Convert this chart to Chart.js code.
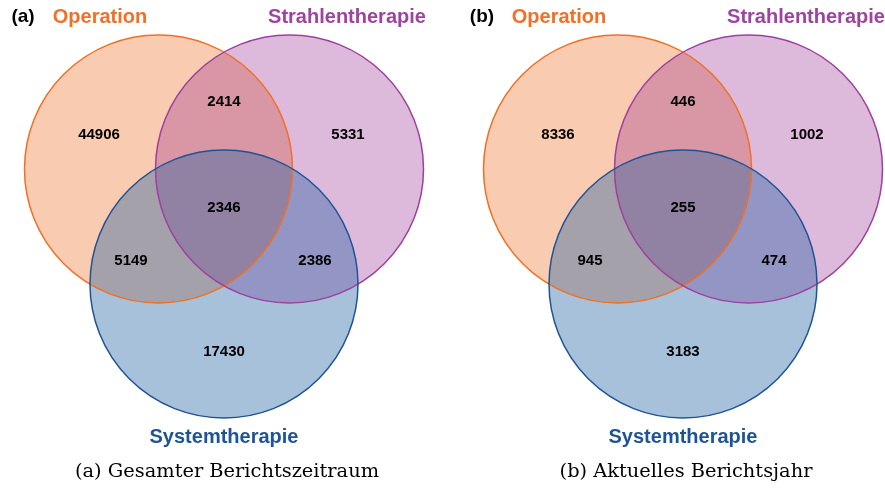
<!DOCTYPE html>
<html><head><meta charset="utf-8">
<script src="https://cdn.jsdelivr.net/npm/chart.js@4/dist/chart.umd.min.js"></script>
<style>html,body{margin:0;padding:0;background:#fff;}#wrap{width:885px;height:489px;position:relative;}</style>
</head><body><div id="wrap"><canvas id="c" width="885" height="489"></canvas></div>
<script>
// ---- data ----
const setNames = ["Operation", "Strahlentherapie", "Systemtherapie"];
const panelTags = ["(a)", "(b)"];
const captions = ["(a) Gesamter Berichtszeitraum", "(b) Aktuelles Berichtsjahr"];
// region order: Op only, Strahl only, System only, Op∩Strahl, Op∩System, Strahl∩System, all three
const regionKeys = ["O", "S", "Y", "OS", "OY", "SY", "OSY"];
const countsA = [44906, 5331, 17430, 2414, 5149, 2386, 2346];
const countsB = [8336, 1002, 3183, 446, 945, 474, 255];
const panelCounts = [countsA, countsB];

// ---- layout (pixel-unit scale) ----
const panelCx = [224, 683];
const R = 134;
const circleOffsets = [[-65.5, 169], [65.5, 169], [0, 284]];
const labelOffsets = {O: [-125, 135], S: [124, 135], Y: [0, 352], OS: [0, 102], OY: [-93, 261], SY: [91, 261], OSY: [0, 208]};
const strokes = ["rgb(240,112,36)", "rgb(158,64,160)", "rgb(30,84,150)"];
const fills = ["rgba(240,125,57,0.4)", "rgba(149,39,142,0.32)", "rgba(32,96,160,0.39)"];
const textCols = ["rgb(240,112,40)", "rgb(158,68,160)", "rgb(30,84,150)"];

const circlePoints = i => panelCx.map(cx => ({x: cx + circleOffsets[i][0], y: circleOffsets[i][1], r: R}));
// Chart.js draws lower "order" on top: fills bottom (orange, purple, blue), outlines above them
const fillSets = setNames.map((name, i) => ({
  label: name, data: circlePoints(i), order: 10 - i,
  backgroundColor: fills[i], borderColor: 'rgba(0,0,0,0)', borderWidth: 0,
  hoverRadius: 0, clip: false
}));
const lineSets = setNames.map((name, i) => ({
  label: name + ' outline', data: circlePoints(i), order: 3 - i,
  backgroundColor: 'rgba(0,0,0,0)', borderColor: strokes[i], borderWidth: 1.5,
  hoverRadius: 0, clip: false
}));

const textPlugin = {
  id: 'vennText',
  afterDatasetsDraw(chart) {
    const ctx = chart.ctx, xs = chart.scales.x, ys = chart.scales.y;
    const X = v => xs.getPixelForValue(v), Y = v => ys.getPixelForValue(v);
    ctx.save();
    ctx.textAlign = 'center';
    ctx.textBaseline = 'middle';
    panelCx.forEach((cx, p) => {
      ctx.fillStyle = '#000';
      ctx.font = 'bold 15px "Liberation Sans", Arial, sans-serif';
      regionKeys.forEach((k, j) => {
        const o = labelOffsets[k];
        ctx.fillText(String(panelCounts[p][j]), X(cx + o[0]), Y(o[1]));
      });
      ctx.font = 'bold 20px "Liberation Sans", Arial, sans-serif';
      ctx.fillStyle = textCols[0];
      ctx.fillText(setNames[0], X(cx - 124), Y(17));
      ctx.fillStyle = textCols[1];
      ctx.fillText(setNames[1], X(cx + 123), Y(17));
      ctx.fillStyle = textCols[2];
      ctx.fillText(setNames[2], X(cx), Y(437));
      ctx.fillStyle = '#000';
      ctx.font = 'bold 19px "Liberation Sans", Arial, sans-serif';
      ctx.fillText(panelTags[p], X(cx - 201), Y(17));
      ctx.font = '19.4px "DejaVu Serif", "Liberation Serif", serif';
      ctx.fillText(captions[p], X(cx + 3), Y(472));
    });
    ctx.restore();
  }
};

new Chart(document.getElementById('c'), {
  type: 'bubble',
  data: {datasets: fillSets.concat(lineSets)},
  options: {
    responsive: false,
    animation: false,
    events: [],
    layout: {padding: 0, autoPadding: false},
    plugins: {legend: {display: false}, tooltip: {enabled: false}},
    scales: {
      x: {type: 'linear', min: 0, max: 885, display: false},
      y: {type: 'linear', min: 0, max: 489, reverse: true, display: false}
    }
  },
  plugins: [textPlugin]
});
</script></body></html>
